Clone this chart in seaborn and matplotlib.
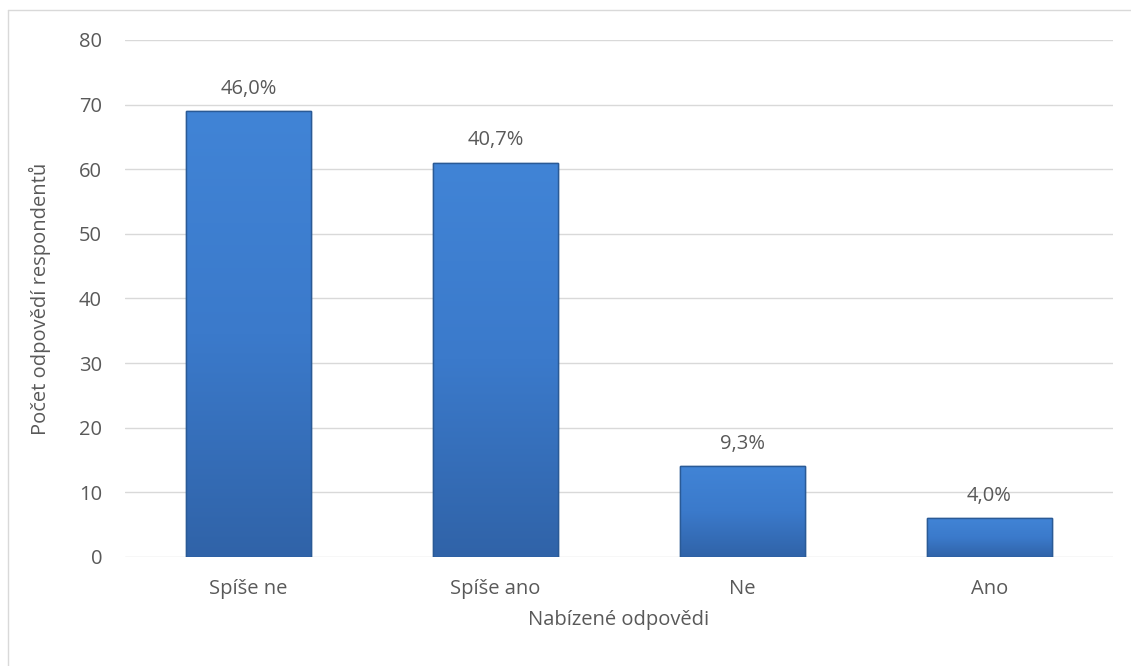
import numpy as np
import pandas as pd
import matplotlib
matplotlib.use("Agg")
import matplotlib.pyplot as plt
import seaborn as sns
from matplotlib.lines import Line2D
from matplotlib.colors import LinearSegmentedColormap

# data
categories = ["Spíše ne", "Spíše ano", "Ne", "Ano"]
counts = [69, 61, 14, 6]
percent_labels = ["46,0%", "40,7%", "9,3%", "4,0%"]

df = pd.DataFrame({"odpoved": categories, "pocet": counts})

sns.set_style("white")
plt.rcParams["font.family"] = ["Open Sans", "DejaVu Sans"]
text_col = "#595959"
fs = 14.5

fig = plt.figure(figsize=(11.31, 6.66), dpi=100)
ax = fig.add_axes([0.1105, 0.1637, 0.8735, 0.7763])

sns.barplot(data=df, x="odpoved", y="pocet", color="#3d7ccc", width=0.505,
            edgecolor="#2a5a96", linewidth=1.0, saturation=1, ax=ax, zorder=3)

# gradient fill on each bar
cmap = LinearSegmentedColormap.from_list("bar", ["#3063a8", "#3b7acb", "#4184d6"])
grad = np.linspace(0, 1, 256).reshape(-1, 1)
for bar in ax.patches:
    x0, y0 = bar.get_x(), bar.get_y()
    w, h = bar.get_width(), bar.get_height()
    im = ax.imshow(grad, cmap=cmap, aspect="auto", origin="lower",
                   extent=[x0, x0 + w, y0, y0 + h], zorder=3.5)
    im.set_clip_path(bar)
    ax.add_patch(plt.Rectangle((x0, y0), w, h, fill=False,
                               edgecolor="#2a5a96", linewidth=1.0, zorder=4))

for i, (c, lab) in enumerate(zip(counts, percent_labels)):
    ax.annotate(lab, (i, c), xytext=(0, 9), textcoords="offset points",
                ha="center", va="bottom", fontsize=fs, color=text_col)

ax.set_xlim(-0.5, 3.5)
ax.set_ylim(0, 80)
ax.set_yticks(range(0, 81, 10))
ax.yaxis.grid(True, color="#d9d9d9", linewidth=1.0, zorder=0)
ax.set_axisbelow(True)
for s in ax.spines.values():
    s.set_visible(False)
ax.tick_params(axis="both", length=0, labelsize=fs, colors=text_col)
ax.tick_params(axis="x", pad=16)
ax.tick_params(axis="y", pad=16.5)
ax.set_xlabel("Nabízené odpovědi", fontsize=fs, color=text_col, labelpad=8)
ax.set_ylabel("Počet odpovědí respondentů", fontsize=fs, color=text_col, labelpad=20)

# outer chart border (left and top visible)
fig.add_artist(Line2D([8 / 1131, 8 / 1131], [0, 1 - 10 / 666], transform=fig.transFigure,
                      color="#d9d9d9", linewidth=1.0))
fig.add_artist(Line2D([8 / 1131, 1], [1 - 10 / 666, 1 - 10 / 666], transform=fig.transFigure,
                      color="#d9d9d9", linewidth=1.0))

fig.savefig("out.png", dpi=100)
